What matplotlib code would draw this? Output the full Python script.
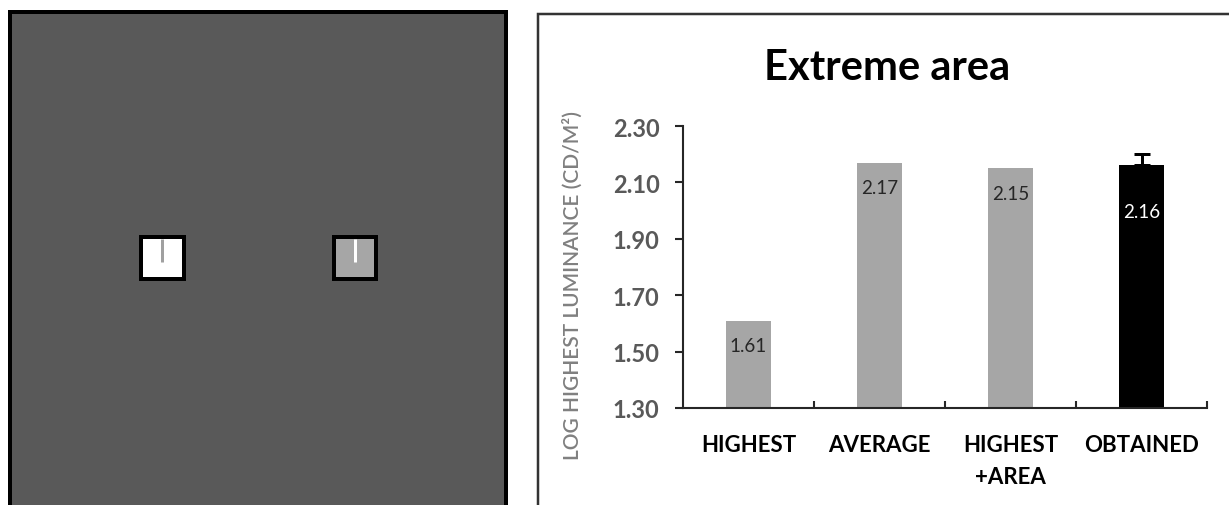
import matplotlib.pyplot as plt
from matplotlib.patches import Rectangle

# dados do grafico
categorias = ["HIGHEST", "AVERAGE", "HIGHEST\n+AREA", "OBTAINED"]
valores = [1.61, 2.17, 2.15, 2.16]
rotulos = ["1.61", "2.17", "2.15", "2.16"]
erro_obtido = 0.04
cores = ["#a6a6a6", "#a6a6a6", "#a6a6a6", "#000000"]
y_ticks = [1.30, 1.50, 1.70, 1.90, 2.10, 2.30]

plt.rcParams['font.family'] = ['Lato', 'DejaVu Sans']

W, H = 1229, 506
fig = plt.figure(figsize=(W / 100, H / 100), dpi=100)

# fundo: painel do estimulo e moldura do grafico (coordenadas em pixels)
fundo = fig.add_axes([0, 0, 1, 1])
fundo.set_xlim(0, W)
fundo.set_ylim(H, 0)
fundo.axis('off')

px = 0.72  # 1 pixel em pontos
fundo.add_patch(Rectangle((10, 13), 496, 520, facecolor='#595959',
                          edgecolor='black', linewidth=4 * px))
# quadrados do estimulo
fundo.add_patch(Rectangle((141, 238), 43, 42, facecolor='white',
                          edgecolor='black', linewidth=4 * px))
fundo.plot([162, 162], [240, 263], color='#a0a0a0', linewidth=3 * px, solid_capstyle='butt')
fundo.add_patch(Rectangle((334, 238), 42, 42, facecolor='#a6a6a6',
                          edgecolor='black', linewidth=4 * px))
fundo.plot([355, 355], [240, 263], color='white', linewidth=3 * px, solid_capstyle='butt')

# moldura do grafico
fundo.add_patch(Rectangle((538, 15), 800, 600, facecolor='white',
                          edgecolor='#333333', linewidth=2.5 * px))

# grafico de barras
ax = fig.add_axes([683 / W, (H - 409) / H, 524 / W, 282 / H])
ax.patch.set_alpha(0)
x = list(range(len(categorias)))
barras = ax.bar(x, valores, width=0.34, color=cores, zorder=2)
ax.errorbar(x[-1], valores[-1], yerr=[[0], [erro_obtido]], fmt='none',
            ecolor='black', elinewidth=3 * px, capsize=8 * px, capthick=3 * px, zorder=3)

for i, (v, r) in enumerate(zip(valores, rotulos)):
    cor_txt = 'white' if cores[i] == '#000000' else '#262626'
    desce = -33 if cores[i] == '#000000' else -18
    ax.annotate(r, (i, v), xytext=(0, desce), textcoords='offset points',
                ha='center', va='center', fontsize=13.5, color=cor_txt)

ax.set_xlim(-0.5, 3.5)
ax.set_ylim(1.30, 2.30)
ax.set_yticks(y_ticks)
ax.set_yticklabels([f"{t:.2f}" for t in y_ticks], fontsize=17, fontweight='bold', color='#595959')
ax.tick_params(axis='y', direction='out', length=8 * px, width=1.5, color='#262626', pad=11)

ax.set_xticks(x)
ax.set_xticklabels(categorias, fontsize=16, fontweight='bold', color='black')
for t in ax.get_xticklabels():
    t.set_linespacing(1.65)
ax.tick_params(axis='x', which='major', length=0, pad=19)
ax.set_xticks([0.5, 1.5, 2.5, 3.5], minor=True)
ax.tick_params(axis='x', which='minor', direction='in', length=7 * px, width=1.5, color='#262626')

for lado in ['top', 'right']:
    ax.spines[lado].set_visible(False)
for lado in ['left', 'bottom']:
    ax.spines[lado].set_color('#262626')
    ax.spines[lado].set_linewidth(1.5)

# titulo e rotulo do eixo y
fig.text(887 / W, (H - 68) / H, "Extreme area", ha='center', va='center',
         fontsize=30, fontweight='bold', color='black')
fig.text(573 / W, (H - 285) / H, "LOG HIGHEST LUMINANCE (CD/M²)", rotation=90,
         ha='center', va='center', fontsize=15, fontweight='semibold', color='#808080')

fig.savefig("out.png", dpi=100)
